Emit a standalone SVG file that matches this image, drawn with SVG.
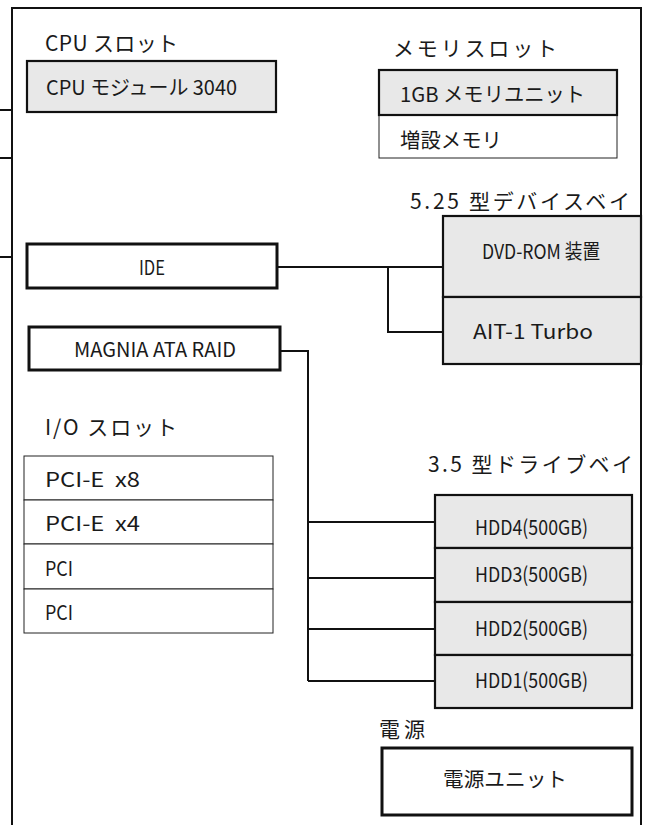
<svg xmlns="http://www.w3.org/2000/svg" width="648" height="825" viewBox="0 0 648 825">
<style>
text{font-family:"Noto Sans CJK JP","Liberation Sans",sans-serif;fill:#1a1a1a;font-size:20.5px}
.h{font-size:21px}
.g{fill:#e8e8e8;stroke:#111;stroke-width:2.2}
.w{fill:#fff;stroke:#111;stroke-width:3}
.t{fill:#fff;stroke:#222;stroke-width:1}
.ln{fill:none;stroke:#111;stroke-width:2}
</style>
<g id="frame">
<path class="ln" d="M12,825 V8 H641 V825"/>
<path class="ln" d="M0,110 H12 M0,158 H12 M0,257 H12" stroke-width="1.5"/>
</g>
<g id="cpu-slot">
<text class="h" x="45" y="51" textLength="133">CPU スロット</text>
<rect class="g" x="27" y="61" width="249" height="51"/>
<text x="46" y="95" textLength="191" lengthAdjust="spacingAndGlyphs">CPU モジュール 3040</text>
</g>
<g id="memory-slot">
<text class="h" x="393" y="56" textLength="164">メモリスロット</text>
<rect class="t" x="379" y="115" width="238" height="43"/>
<rect class="g" x="379" y="70" width="238" height="45" stroke-width="2.6"/>
<text x="400" y="102" textLength="185" lengthAdjust="spacingAndGlyphs">1GB メモリユニット</text>
<text x="400" y="148" textLength="102" lengthAdjust="spacingAndGlyphs">増設メモリ</text>
</g>
<g id="bay-525">
<text class="h" x="410" y="209" textLength="220">5.25 型デバイスベイ</text>
<rect class="g" x="443" y="216" width="198" height="81"/>
<rect class="g" x="443" y="297" width="198" height="67"/>
<text x="482" y="259" textLength="118" lengthAdjust="spacingAndGlyphs">DVD-ROM 装置</text>
<text x="473" y="339" textLength="120" lengthAdjust="spacingAndGlyphs">AIT-1 Turbo</text>
</g>
<g id="ide">
<rect class="w" x="27" y="244" width="250" height="44"/>
<text x="152" y="275" text-anchor="middle" textLength="26" lengthAdjust="spacingAndGlyphs">IDE</text>
</g>
<g id="magnia">
<rect class="w" x="29" y="327" width="251" height="43"/>
<text x="155" y="357" text-anchor="middle" textLength="162" lengthAdjust="spacingAndGlyphs">MAGNIA ATA RAID</text>
</g>
<g id="io-slot">
<text class="h" x="45" y="435" textLength="132">I/O スロット</text>
<rect class="t" x="24" y="456" width="249" height="44"/>
<rect class="t" x="24" y="500" width="249" height="44"/>
<rect class="t" x="24" y="544" width="249" height="45"/>
<rect class="t" x="24" y="589" width="249" height="44"/>
<text x="45" y="487" textLength="95" lengthAdjust="spacingAndGlyphs">PCI-E&#160; x8</text>
<text x="45" y="531" textLength="95" lengthAdjust="spacingAndGlyphs">PCI-E&#160; x4</text>
<text x="45" y="576" textLength="28" lengthAdjust="spacingAndGlyphs">PCI</text>
<text x="45" y="620" textLength="28" lengthAdjust="spacingAndGlyphs">PCI</text>
</g>
<g id="bay-35">
<text class="h" x="428" y="472" textLength="205">3.5 型ドライブベイ</text>
<rect class="g" x="435" y="495" width="197" height="53" stroke-width="2.6"/>
<rect class="g" x="435" y="548" width="197" height="54" stroke-width="2.6"/>
<rect class="g" x="435" y="602" width="197" height="53" stroke-width="2.6"/>
<rect class="g" x="435" y="655" width="197" height="53" stroke-width="2.6"/>
<text x="475" y="535" textLength="113" lengthAdjust="spacingAndGlyphs">HDD4(500GB)</text>
<text x="475" y="582" textLength="113" lengthAdjust="spacingAndGlyphs">HDD3(500GB)</text>
<text x="475" y="636" textLength="113" lengthAdjust="spacingAndGlyphs">HDD2(500GB)</text>
<text x="475" y="688" textLength="113" lengthAdjust="spacingAndGlyphs">HDD1(500GB)</text>
</g>
<g id="power">
<text class="h" x="379" y="737" textLength="46">電源</text>
<rect class="w" x="382" y="748" width="250" height="67" stroke-width="3.5"/>
<text x="443" y="787" textLength="124" lengthAdjust="spacingAndGlyphs">電源ユニット</text>
</g>
<g id="connectors">
<path class="ln" d="M277,267 H443 M388,267 V332 H443"/>
<path class="ln" d="M280,351 H308 V681 M308,522 H435 M308,578 H435 M308,629 H435 M308,681 H435"/>
</g>
</svg>
